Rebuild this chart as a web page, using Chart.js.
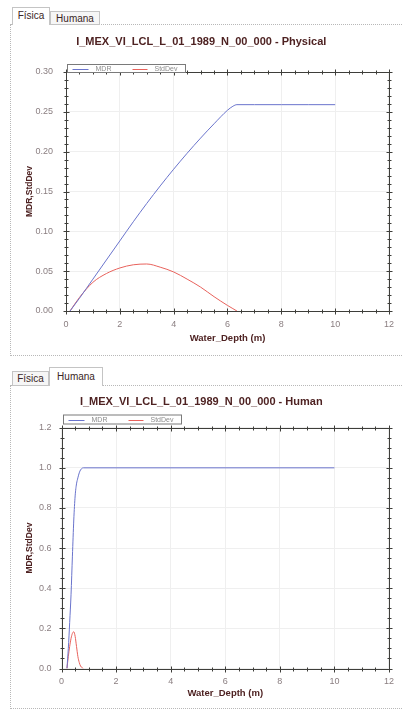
<!DOCTYPE html>
<html>
<head>
<meta charset="utf-8">
<script src="https://cdn.jsdelivr.net/npm/chart.js@4.4.1/dist/chart.umd.min.js"></script>
<style>
    body {
        margin: 0;
        background: #fff;
        width: 402px;
        height: 711px;
        position: relative;
        overflow: hidden;
        font-family: "Liberation Sans", Arial, sans-serif;
    }
    .panel {
        position: absolute;
        left: 10px;
        right: 0;
        border-top: 1px dotted #b8b8b8;
        border-left: 1px dotted #b8b8b8;
        border-bottom: 1px dotted #b8b8b8;
    }
    .tab {
        position: absolute;
        box-sizing: border-box;
        font-size: 10px;
        color: #3a2626;
        border: 1px solid #c4c4c4;
        border-bottom: none;
        background: #fff;
        text-align: center;
        z-index: 2;
    }
    .tab.off {
        background: #f6f6f6;
        border-bottom: 1px solid #c4c4c4;
    }
    canvas {
        position: absolute;
        left: 10px;
    }
</style>
</head>
<body>

<div class="panel" style="top:24px; height:330px"></div>
<div class="tab" style="left:12px; top:7px; width:38px; height:18px; line-height:16px">Física</div>
<div class="tab off" style="left:50px; top:11px; width:50px; height:14px; line-height:13px">Humana</div>
<canvas id="chartPhysical" width="392" height="326" style="top:26px"></canvas>

<div class="panel" style="top:385px; height:322px"></div>
<div class="tab off" style="left:12px; top:371px; width:37px; height:15px; line-height:13px">Física</div>
<div class="tab" style="left:49px; top:367px; width:54px; height:19px; line-height:17px">Humana</div>
<canvas id="chartHuman" width="392" height="320" style="top:386px"></canvas>

<script>
// Physical damage curve
const depthPhysical = [0.15, 0.5, 1, 1.5, 2, 2.5, 3, 3.5, 4, 4.5, 5, 5.5, 6, 6.2, 6.35, 7, 8, 9, 10]
const mdrPhysical = [0, 0.016, 0.040, 0.064, 0.088, 0.112, 0.135, 0.157, 0.178, 0.198, 0.217, 0.235, 0.252, 0.257, 0.259, 0.259, 0.259, 0.259, 0.259]
const stdPhysical = [0, 0.017, 0.036, 0.047, 0.054, 0.058, 0.059, 0.055, 0.049, 0.040, 0.030, 0.018, 0.007, 0.003, 0, null, null, null, null]

// Human damage curve
const depthHuman = [0.2, 0.25, 0.3, 0.35, 0.4, 0.45, 0.5, 0.55, 0.6, 0.65, 0.7, 0.8, 10]
const mdrHuman = [0, 0.10, 0.23, 0.37, 0.56, 0.74, 0.86, 0.92, 0.95, 0.975, 0.99, 1.0, 1.0]
const stdHuman = [0, 0.06, 0.11, 0.15, 0.175, 0.183, 0.16, 0.11, 0.06, 0.03, 0.012, 0, null]

const xTicks = [0, 2, 4, 6, 8, 10, 12]
const yTicksPhysical = [0, 0.05, 0.10, 0.15, 0.20, 0.25, 0.30]
const yTicksHuman = [0, 0.2, 0.4, 0.6, 0.8, 1.0, 1.2]

const FONT = "'Liberation Sans', Arial, sans-serif"
const darkText = "#4e2222"
const tickText = "#8a7e80"

function toPoints(xs, ys) {
    return xs.map((x, i) => ({ x: x, y: ys[i] }))
}

const framePlugin = {
    id: "frame",
    afterDatasetsDraw(chart, args, opts) {
        const { ctx, chartArea: a, scales } = chart
        const x = scales.x
        const y = scales.y
        const L = Math.round(a.left) + 0.5
        const R = Math.round(a.right) + 0.5
        const T = Math.round(a.top) + 0.5
        const B = Math.round(a.bottom) + 0.5
        ctx.save()
        ctx.strokeStyle = "#3e3e3a"
        ctx.lineWidth = 1
        ctx.strokeRect(L, T, R - L, B - T)

        function seg(x1, y1, x2, y2) {
            ctx.beginPath()
            ctx.moveTo(x1, y1)
            ctx.lineTo(x2, y2)
            ctx.stroke()
        }

        // ticks on all four sides, major ones longer
        const nx = Math.round((x.max - x.min) / opts.minorX)
        for (let i = 0; i <= nx; i++) {
            const v = x.min + i * opts.minorX
            const len = i % opts.majorEveryX === 0 ? 3 : 2
            const px = Math.round(x.getPixelForValue(v)) + 0.5
            seg(px, B - len, px, B + len)
            seg(px, T - len, px, T + len)
        }
        const ny = Math.round((y.max - y.min) / opts.minorY)
        for (let i = 0; i <= ny; i++) {
            const v = y.min + i * opts.minorY
            const len = i % opts.majorEveryY === 0 ? 3 : 2
            const py = Math.round(y.getPixelForValue(v)) + 0.5
            seg(L - len, py, L + len, py)
            seg(R - len, py, R + len, py)
        }

        // boxed legend sitting on the plot frame
        const bx = L + 1
        const bh = opts.legendHeight
        const by = T - opts.legendGap - bh
        ctx.fillStyle = "#fff"
        ctx.fillRect(bx, by, 118, bh)
        ctx.strokeStyle = "#7a7a7a"
        ctx.strokeRect(bx, by, 118, bh)
        const cy = Math.round(by + bh / 2) + 0.5
        const offs = [[5, 21, 28], [65, 80, 87]]
        ctx.font = "7px " + FONT
        ctx.textBaseline = "middle"
        chart.data.datasets.forEach((ds, i) => {
            ctx.strokeStyle = ds.borderColor
            seg(bx + offs[i][0], cy, bx + offs[i][1], cy)
            ctx.fillStyle = "#8c8c8c"
            ctx.fillText(ds.label, bx + offs[i][2], cy)
        })
        ctx.restore()
    },
}

function makeChart(id, cfg) {
    return new Chart(document.getElementById(id), {
        type: "line",
        data: {
            datasets: [
                {
                    label: "MDR",
                    data: toPoints(cfg.depth, cfg.mdr),
                    borderColor: "#6a74cc",
                    borderWidth: 1,
                    pointRadius: 0,
                    cubicInterpolationMode: "monotone",
                },
                {
                    label: "StdDev",
                    data: toPoints(cfg.depth, cfg.std),
                    borderColor: "#e8625c",
                    borderWidth: 1,
                    pointRadius: 0,
                    cubicInterpolationMode: "monotone",
                },
            ],
        },
        options: {
            responsive: false,
            animation: false,
            devicePixelRatio: 1,
            layout: { padding: { top: 0, right: cfg.padRight, left: 0, bottom: 0 } },
            plugins: {
                legend: { display: false },
                tooltip: { enabled: false },
                title: {
                    display: true,
                    text: cfg.title,
                    color: darkText,
                    font: { family: FONT, size: 11, weight: "bold" },
                    padding: { top: cfg.titleTop, bottom: cfg.titleBottom },
                },
                frame: {
                    minorX: 0.5,
                    majorEveryX: 4,
                    minorY: cfg.yMinor,
                    majorEveryY: cfg.yMajorEvery,
                    legendGap: cfg.legendGap,
                    legendHeight: cfg.legendHeight,
                },
            },
            scales: {
                x: {
                    type: "linear",
                    min: xTicks[0],
                    max: xTicks[xTicks.length - 1],
                    afterFit(scale) {
                        scale.height = cfg.xHeight
                    },
                    afterBuildTicks(scale) {
                        scale.ticks = xTicks.map((v) => ({ value: v }))
                    },
                    grid: { color: "#efefef", drawTicks: false },
                    border: { display: false },
                    ticks: {
                        padding: cfg.xTickPad,
                        color: tickText,
                        font: { family: FONT, size: 9 },
                        maxRotation: 0,
                    },
                    title: {
                        display: true,
                        text: "Water_Depth (m)",
                        color: darkText,
                        font: { family: FONT, size: 9.5, weight: "bold" },
                        padding: { top: 0, bottom: cfg.xTitlePad },
                    },
                },
                y: {
                    type: "linear",
                    min: cfg.yTicks[0],
                    max: cfg.yTicks[cfg.yTicks.length - 1],
                    afterFit(scale) {
                        scale.width = cfg.yWidth
                    },
                    afterBuildTicks(scale) {
                        scale.ticks = cfg.yTicks.map((v) => ({ value: v }))
                    },
                    grid: { color: "#efefef", drawTicks: false },
                    border: { display: false },
                    ticks: {
                        padding: cfg.yTickPad,
                        color: tickText,
                        font: { family: FONT, size: 9 },
                        callback: (v) => v.toFixed(cfg.decimals),
                    },
                    title: {
                        display: true,
                        text: "MDR,StdDev",
                        color: darkText,
                        font: { family: FONT, size: 8.5, weight: "bold" },
                        padding: { top: cfg.yTitlePad, bottom: 0 },
                    },
                },
            },
        },
        plugins: [framePlugin],
    })
}

makeChart("chartPhysical", {
    title: "I_MEX_VI_LCL_L_01_1989_N_00_000 - Physical",
    depth: depthPhysical,
    mdr: mdrPhysical,
    std: stdPhysical,
    yTicks: yTicksPhysical,
    yMinor: 0.01,
    yMajorEvery: 5,
    decimals: 2,
    padRight: 9.5,
    titleTop: 9.4,
    titleBottom: 23.4,
    yWidth: 56,
    xHeight: 41,
    xTickPad: 8,
    xTitlePad: 7.6,
    yTickPad: 13,
    yTitlePad: 15,
    legendGap: 0,
    legendHeight: 8,
})

makeChart("chartHuman", {
    title: "I_MEX_VI_LCL_L_01_1989_N_00_000 - Human",
    depth: depthHuman,
    mdr: mdrHuman,
    std: stdHuman,
    yTicks: yTicksHuman,
    yMinor: 0.05,
    yMajorEvery: 4,
    decimals: 1,
    padRight: 9.5,
    titleTop: 9.4,
    titleBottom: 19.1,
    yWidth: 51.5,
    xHeight: 37.5,
    xTickPad: 8,
    xTitlePad: 7.1,
    yTickPad: 10,
    yTitlePad: 15,
    legendGap: 4.5,
    legendHeight: 9,
})
</script>
</body>
</html>
